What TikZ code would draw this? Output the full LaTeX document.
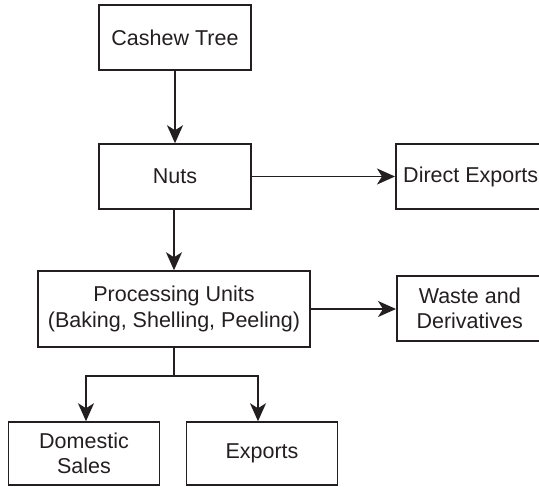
\documentclass[tikz,border=0pt]{standalone}
\usepackage{fontspec}
\setmainfont{Liberation Sans}
\usetikzlibrary{arrows.meta}
\definecolor{ink}{HTML}{231F20}
\begin{document}
\begin{tikzpicture}[x=1pt,y=1pt,
  box/.style={draw=ink,line width=1.5pt,inner sep=0pt,align=center,text=ink,
    font=\fontsize{21.5}{25.5}\selectfont},
  arr/.style={draw=ink,line width=1.5pt,-{Stealth[length=18pt,width=16pt,inset=5pt]}},
  ln/.style={draw=ink,line width=1.5pt}]
\useasboundingbox (0,0) rectangle (539,-487);
\clip (0,0) rectangle (539,-487);
\node[box,minimum width=152pt,minimum height=65pt] (tree) at (175,-37.5) {Cashew Tree};
\node[box,minimum width=152pt,minimum height=65pt] (nuts) at (175,-176.5) {Nuts};
\node[box,minimum width=154pt,minimum height=65pt,anchor=west] (dexp) at (395,-176.5) {\hspace*{-2pt}Direct Exports\hspace*{2pt}};
\node[box,minimum width=272pt,minimum height=76pt] (proc) at (174,-309) {Processing Units\\(Baking, Shelling, Peeling)};
\node[box,minimum width=154pt,minimum height=65pt,anchor=west] (waste) at (396,-308.5) {\hspace*{-4pt}Waste and\hspace*{4pt}\\\hspace*{-4pt}Derivatives\hspace*{4pt}};
\node[box,minimum width=151pt,minimum height=63pt] (dom) at (84,-453.5) {Domestic\\Sales};
\node[box,minimum width=151pt,minimum height=63pt] (exp) at (262,-453.5) {Exports};
\coordinate (br) at (174,-376);
\draw[arr] (tree) -- (nuts);
\draw[arr] (nuts) -- (dexp);
\draw[arr] (nuts.south -| proc.north) -- (proc.north);
\draw[arr] (proc.east) -- (waste.west |- proc.east);
\draw[ln] (proc.south) -- (br);
\draw[arr] (br) -| ([xshift=2pt]dom.north);
\draw[arr] (br) -| ([xshift=-4pt]exp.north);
\end{tikzpicture}
\end{document}
